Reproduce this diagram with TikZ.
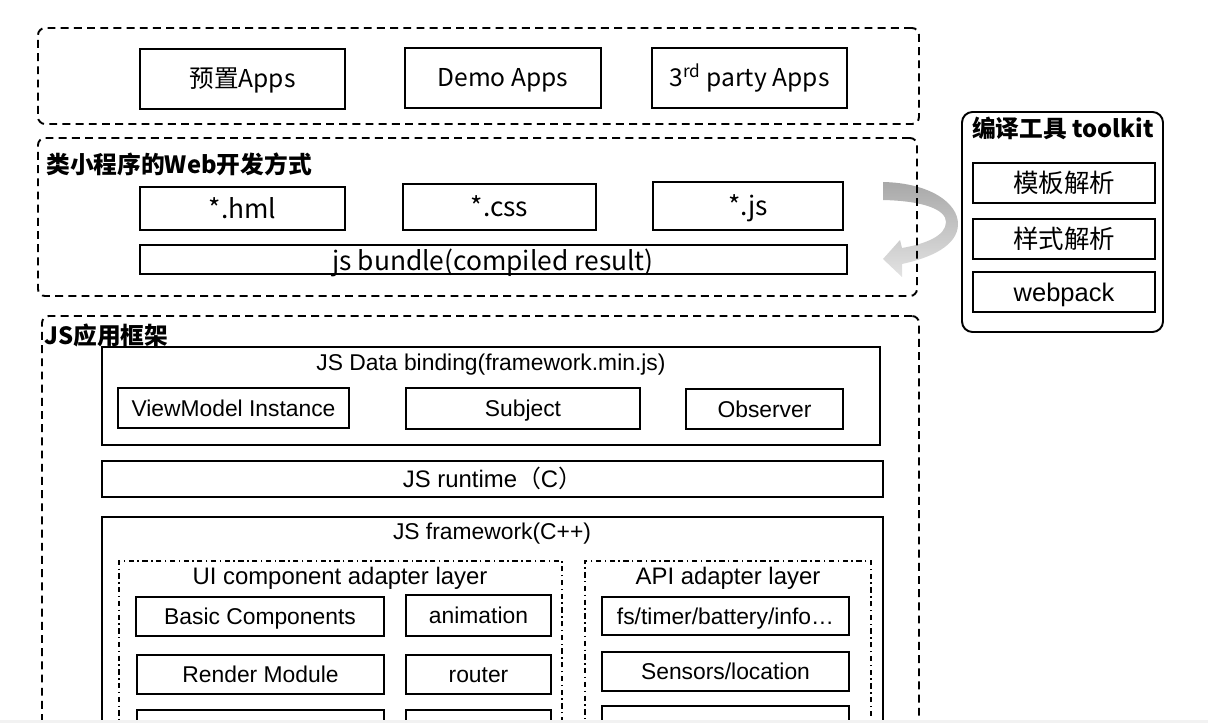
\documentclass[tikz,border=0pt]{standalone}
\usepackage{fontspec}
\setmainfont{Liberation Sans}
\newfontfamily\cjk{Noto Sans CJK SC}
\usetikzlibrary{fit}

\tikzset{
    box/.style={draw, line width=1.1pt, inner sep=0pt},
    dashbox/.style={draw, line width=1.1pt, dash pattern=on 4.5pt off 3pt, rounded corners=4pt, inner sep=0pt},
    dotbox/.style={draw, line width=1pt, dash pattern=on 3pt off 2pt on 0.8pt off 2pt, inner sep=0pt},
    ttl/.style={font=\cjk\bfseries\fontsize{13.5}{16}\selectfont, inner sep=0pt},
    yh/.style={font=\cjk\fontsize{14}{16}\selectfont, text height=10.2pt, text depth=0pt},
    yhbig/.style={font=\cjk\fontsize{15}{17}\selectfont, text height=11pt, text depth=0pt},
    yhtool/.style={font=\cjk\fontsize{14.5}{17}\selectfont, text height=10.6pt, text depth=0pt},
    ar/.style={font=\fontsize{13}{15}\selectfont, text height=9.4pt, text depth=0pt},
    arbig/.style={font=\fontsize{13.6}{16}\selectfont, text height=9.8pt, text depth=0pt},
    artool/.style={font=\fontsize{14.5}{17}\selectfont, text height=10.4pt, text depth=0pt}
}

\begin{document}
\begin{tikzpicture}[x=0.02cm, y=-0.02cm]
            \useasboundingbox (0,0) rectangle (1208,723);

            \begin{scope}
                \clip (0,0) rectangle (1208,720);

                % apps
                \node[dashbox, fit={(38,28) (919,124)}] (apps) {};
                \node[box, fit={(140,49) (345,109)}, label={[yh]center:预置Apps}] (preset) {};
                \node[box, fit={(405,48) (601,108)}, label={[yh]center:Demo Apps}] (demo) {};
                \node[box, fit={(652,48) (847,108)}, label={[yh]center:3\textsuperscript{rd} party Apps}] (third) {};

                % compile arrow
                \shade[top color=gray!68, bottom color=gray!22]
                    (883,182) .. controls (930,183) and (958,203) .. (958,224)
                    .. controls (958,246) and (930,258) .. (902,264)
                    -- (902,277) -- (883,259) -- (900,240) -- (902,248)
                    .. controls (925,244) and (946,236) .. (946,222)
                    .. controls (946,210) and (925,201) .. (883,200) -- cycle;

                % web development
                \node[dashbox, fit={(38,138) (917,296)}] (web) {};
                \node[ttl, anchor=west] (webtitle) at (46,164) {类小程序的Web开发方式};
                \node[box, fit={(140,187) (345,230)}, label={[yhbig]center:*.hml}] (hml) {};
                \node[box, fit={(403,184) (596,230)}, label={[yhbig]center:*.css}] (css) {};
                \node[box, fit={(653,182) (843,230)}, label={[yhbig]center:*.js}] (jsfile) {};
                \node[box, fit={(140,245) (847,274)}] (bundle) {};
                \node[yhbig, inner sep=0pt] (bundletext) at (493,261) {js bundle(compiled result)};

                % toolkit
                \node[box, rounded corners=6pt, fit={(962,112) (1163,332)}] (toolkit) {};
                \node[ttl] (tooltitle) at (1063,128) {编译工具 toolkit};
                \node[box, fit={(973,163) (1155,203)}, label={[yhtool]center:模板解析}] (tmpl) {};
                \node[box, fit={(973,219) (1155,259)}, label={[yhtool]center:样式解析}] (stylep) {};
                \node[box, fit={(973,272) (1155,312)}, label={[artool]center:webpack}] (webpack) {};

                % js application framework
                \node[dashbox, fit={(42,316) (919,800)}] (jsapp) {};
                \node[ttl, anchor=west] (apptitle) at (44,335) {JS应用框架};

                \node[box, fit={(102,347) (880,445)}] (binding) {};
                \node[ar] (bindtitle) at (491,362) {JS Data binding(framework.min.js)};
                \node[box, fit={(118,388) (349,428)}, label={[ar]center:ViewModel Instance}] (vm) {};
                \node[box, fit={(406,388) (640,429)}, label={[ar]center:Subject}] (subject) {};
                \node[box, fit={(686,389) (843,429)}, label={[ar]center:Observer}] (observer) {};

                \node[box, fit={(102,461) (883,497)}, label={[arbig]center:JS runtime{\cjk （}C{\cjk ）}}] (runtime) {};

                \node[box, fit={(102,517) (883,800)}] (framework) {};
                \node[ar] (frametitle) at (492,531) {JS framework(C++)};

                \node[dotbox, fit={(119,561) (562,800)}] (uilayer) {};
                \node[arbig] (uititle) at (340,576) {UI component adapter layer};
                \node[box, fit={(136,597) (384,636)}, label={[ar]center:Basic Components}] (basic) {};
                \node[box, fit={(406,595) (551,636)}, label={[ar]center:animation}] (anim) {};
                \node[box, fit={(137,655) (384,694)}, label={[ar]center:Render Module}] (render) {};
                \node[box, fit={(406,655) (551,694)}, label={[ar]center:router}] (router) {};
                \node[box, fit={(137,710) (384,780)}] (statebox) {};
                \node[box, fit={(406,710) (551,780)}] (eventbox) {};

                \node[dotbox, fit={(585,561) (871,800)}] (apilayer) {};
                \node[arbig] (apititle) at (728,576) {API adapter layer};
                \node[box, fit={(602,597) (849,635)}, label={[ar]center:fs/timer/battery/info…}] (sysapi) {};
                \node[box, fit={(602,652) (849,691)}, label={[ar]center:Sensors/location}] (sensor) {};
                \node[box, fit={(602,706) (849,780)}] (modapi) {};
            \end{scope}

            \fill[gray!10] (0,720) rectangle (1208,723);
        \end{tikzpicture}
\end{document}
